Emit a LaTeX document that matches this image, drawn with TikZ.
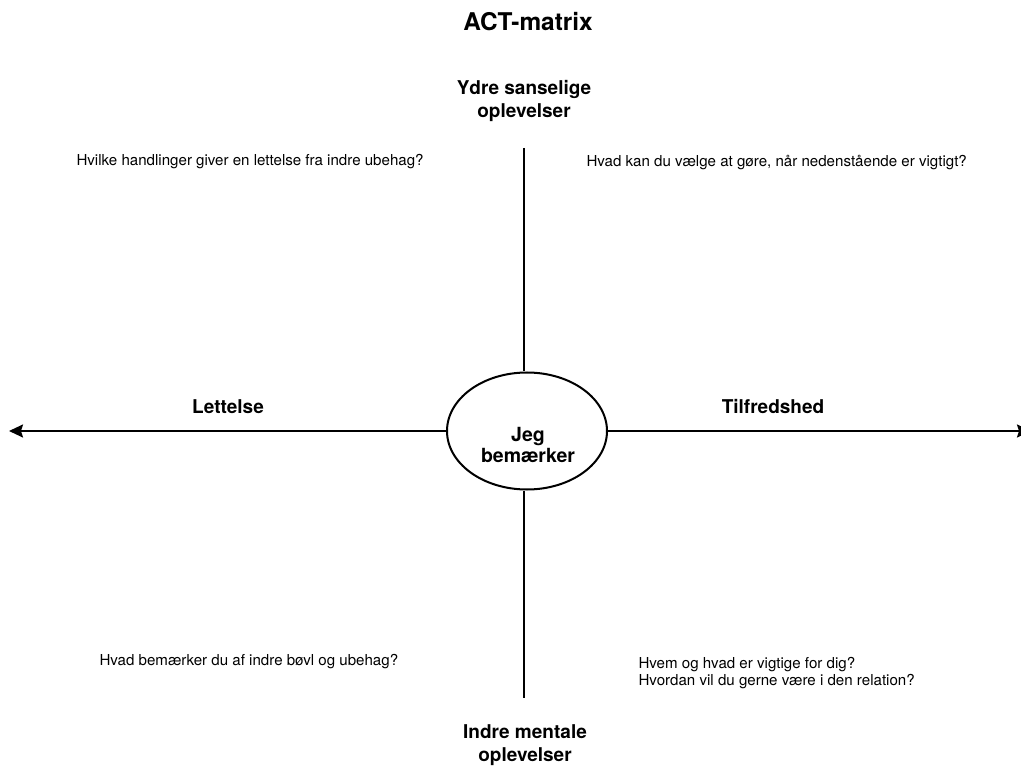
\documentclass[tikz,border=0pt]{standalone}
\usepackage{fontspec}
\setmainfont{TeX Gyre Heros}
\usetikzlibrary{arrows.meta,shapes.geometric}
\begin{document}
\begin{tikzpicture}[x=1pt,y=-1pt,
  axis/.style={line width=2pt,draw=black},
  tip/.style={-{Stealth[length=14pt,width=13pt,inset=2pt]}},
  title/.style={font=\fontsize{24.4}{28}\selectfont\bfseries},
  pole/.style={font=\fontsize{19}{22.5}\selectfont\bfseries,align=center},
  question/.style={font=\fontsize{15.1}{16.5}\selectfont,align=left,anchor=west},
  centre/.style={ellipse,draw,line width=2pt,minimum width=160pt,minimum height=117pt}]
\useasboundingbox (0,0) rectangle (1021,767);
\node[title] (title) at (528,22) {ACT-matrix};

% central ellipse with its two-line caption, set a little below the middle
\node[centre] (me) at (527,431) {};
\node[font=\fontsize{19.5}{21}\selectfont\bfseries,align=center] (melabel) at (528,445) {Jeg\\bemærker};

\node[pole] (outer) at (524,101) {Ydre sanselige\\oplevelser};
\node[pole] (inner) at (525,745) {Indre mentale\\oplevelser};
\node[pole] (relief) at (228,407) {Lettelse};
\node[pole] (content) at (773,407) {Tilfredshed};

\coordinate (top) at (524,148);
\coordinate (bottom) at (524,698);
\coordinate (left) at (9,431);
\coordinate (right) at (1031,431);

\draw[axis] (top) -- (me.north -| top);
\draw[axis] (me.south -| bottom) -- (bottom);
\draw[axis,tip] (me.west) -- (left);
\draw[axis,tip] (me.east) -- (right);

\node[question] (q1) at (73,162) {Hvilke handlinger giver en lettelse fra indre ubehag?};
\node[question] (q2) at (583,162) {Hvad kan du vælge at gøre, når nedenstående er vigtigt?};
\node[question] (q3) at (96,662) {Hvad bemærker du af indre bøvl og ubehag?};
\node[question] (q4) at (635,673) {Hvem og hvad er vigtige for dig?\\Hvordan vil du gerne være i den relation?};
\end{tikzpicture}
\end{document}
